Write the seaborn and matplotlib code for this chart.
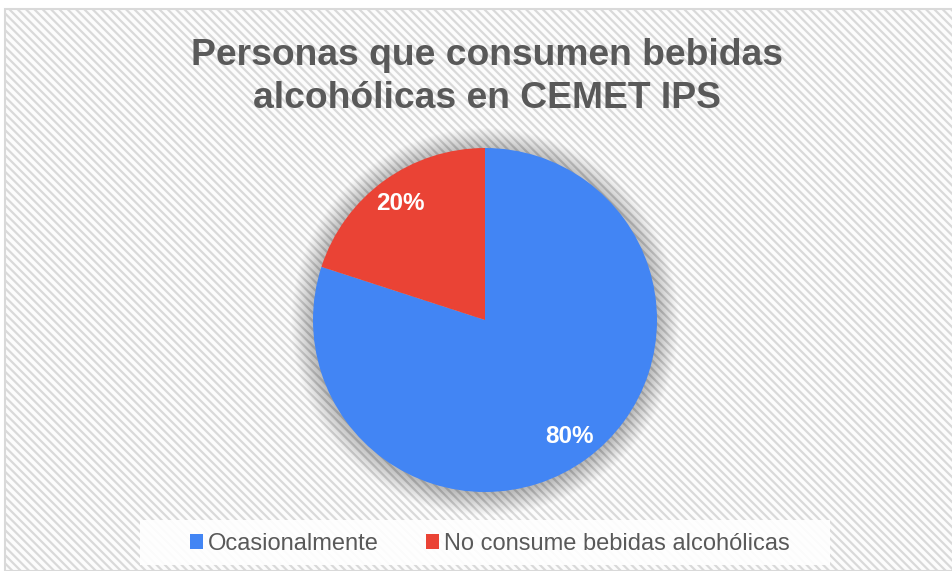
import matplotlib
matplotlib.use("Agg")
import matplotlib.pyplot as plt
import seaborn as sns
from matplotlib.patches import Rectangle, Circle, Patch

# data
categories = ["Ocasionalmente", "No consume bebidas alcohólicas"]
values = [80, 20]
colors = ["#4285F4", "#EA4335"]
title = "Personas que consumen bebidas\nalcohólicas en CEMET IPS"

sns.set_theme(style="white")
plt.rcParams["font.family"] = ["Liberation Sans", "DejaVu Sans"]
plt.rcParams["hatch.color"] = "#f0f0f0"
plt.rcParams["hatch.linewidth"] = 1.6

W, H = 952, 571
fig = plt.figure(figsize=(W / 100, H / 100), dpi=100)
fig.patch.set_facecolor("white")

# striped chart background with thin border
bg = Rectangle((5 / W, 0), 1, 1 - 9 / H, transform=fig.transFigure,
               facecolor="#fcfcfc", edgecolor="#d9d9d9", hatch="\\\\\\\\",
               linewidth=1.5, zorder=-5)
fig.patches.append(bg)

fig.text(487 / W, 1 - 77 / H, title, ha="center", va="center", fontsize=26.8,
         fontweight="bold", color="#595959", linespacing=1.3)

# pie axes: centre ~ (485, 320) px, radius ~172 px
cx, cy, r = 485, 320, 172
ax = fig.add_axes([(cx - r) / W, (H - cy - r) / H, 2 * r / W, 2 * r / H])
ax.set_facecolor("none")
ax.set_zorder(2)

# soft shadow around the pie
for k in range(22):
    ax.add_patch(Circle((0, -0.01), 1.0 + k * 0.006, color="black",
                        alpha=0.011, lw=0, zorder=0, clip_on=False))

wedges, texts, autotexts = ax.pie(
    values, colors=colors, startangle=90, counterclock=False,
    autopct="%1.0f%%", pctdistance=0.84, radius=1.0,
    wedgeprops=dict(linewidth=0),
    textprops=dict(color="white", fontsize=17.5, fontweight="bold"))
ax.set_xlim(-1, 1)
ax.set_ylim(-1, 1)
ax.axis("off")

# legend box
fig.patches.append(Rectangle((140 / W, 6 / H), 690 / W, 45 / H,
                             transform=fig.transFigure, facecolor="white",
                             edgecolor="none", alpha=0.9, zorder=-1))
handles = [Patch(facecolor=c, edgecolor="none") for c in colors]
leg = fig.legend(handles, categories, loc="center", ncol=2,
                 bbox_to_anchor=(490 / W, 27 / H), frameon=False,
                 fontsize=17, handlelength=0.55, handleheight=0.6,
                 handletextpad=0.2, columnspacing=2.0, labelcolor="#595959")

fig.savefig("out.png", dpi=100)
